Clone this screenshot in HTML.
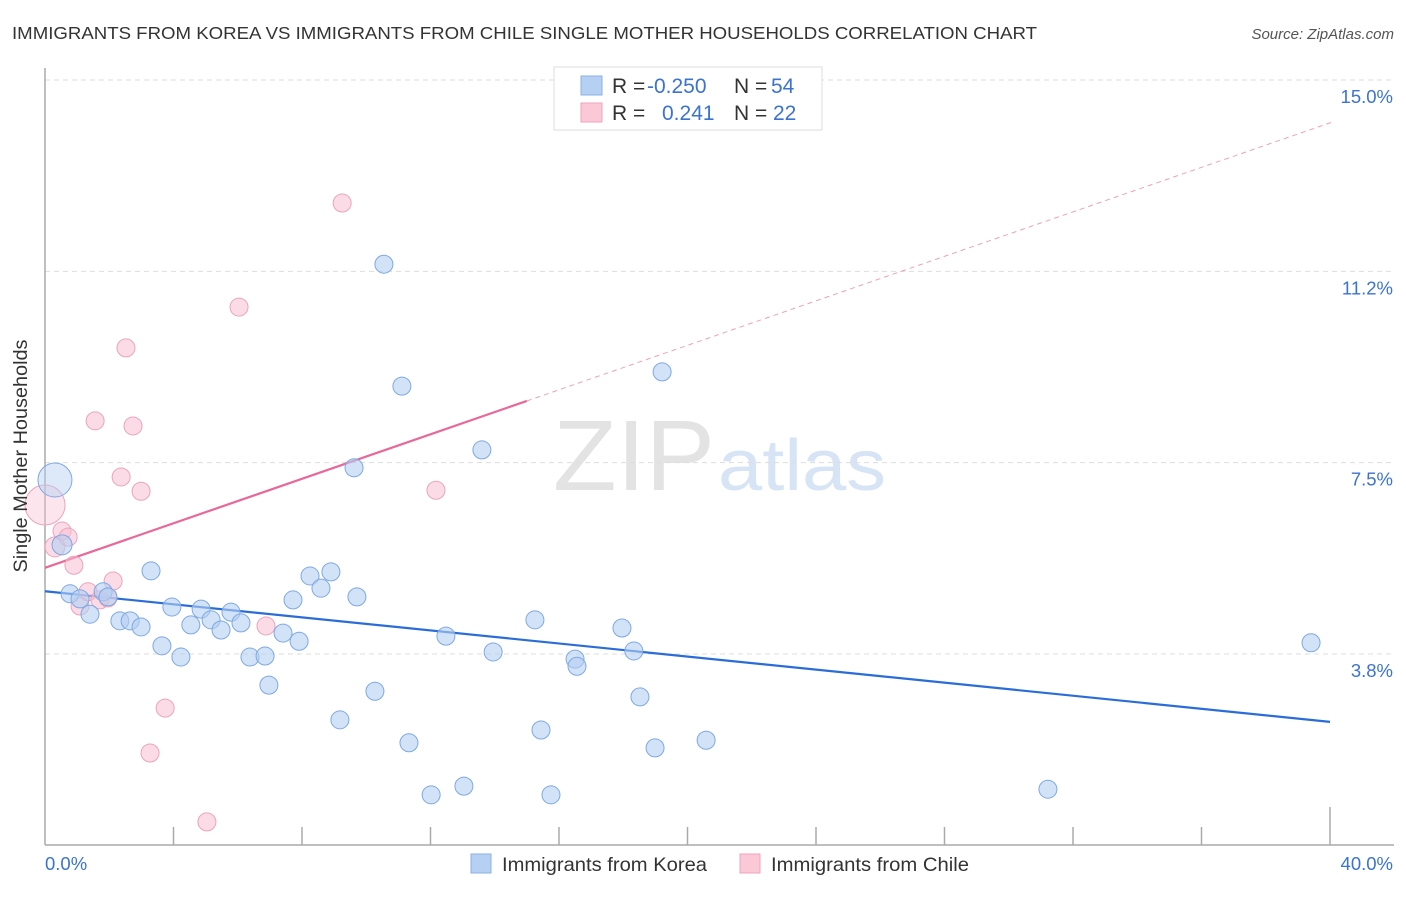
<!DOCTYPE html>
<html><head><meta charset="utf-8"><style>
body{margin:0;background:#fff;font-family:"Liberation Sans",sans-serif;}
svg text{font-family:"Liberation Sans",sans-serif;}
</style></head><body>
<svg id="chart" width="1406" height="892" xmlns="http://www.w3.org/2000/svg">
<text x="12" y="39" font-size="17.5" fill="#333" textLength="1025" lengthAdjust="spacingAndGlyphs">IMMIGRANTS FROM KOREA VS IMMIGRANTS FROM CHILE SINGLE MOTHER HOUSEHOLDS CORRELATION CHART</text>
<text x="1394" y="39" font-size="15" fill="#555" font-style="italic" text-anchor="end">Source: ZipAtlas.com</text>
<g>
<text x="553" y="490" font-size="100" fill="#e3e3e3" font-family="Liberation Serif" textLength="162" lengthAdjust="spacingAndGlyphs">ZIP</text>
<text x="718" y="490" font-size="72" fill="#d6e4f5" textLength="168" lengthAdjust="spacingAndGlyphs">atlas</text>
</g>
<g id="grid"></g><g id="axes"></g><g id="lines"></g><g id="points"></g>
<text x="33" y="456" font-size="19" fill="#333" transform="rotate(-90 33 456)" text-anchor="middle" dy="-6" textLength="233" lengthAdjust="spacingAndGlyphs">Single Mother Households</text>
<g>
<rect x="554" y="67" width="268" height="63" fill="#fff" stroke="#ddd"/>
<rect x="581" y="76" width="21" height="19" fill="#b5d0f3" stroke="#8ab2e6"/>
<rect x="581" y="103" width="21" height="19" fill="#fbc8d7" stroke="#efa3bb"/>
<text x="612" y="93" font-size="21" fill="#333">R = <tspan x="647" fill="#3b73d1">-0.250</tspan><tspan x="734">N = </tspan><tspan x="771" fill="#3b73d1">54</tspan></text>
<text x="612" y="120" font-size="21" fill="#333">R = <tspan x="662" fill="#3b73d1">0.241</tspan><tspan x="734">N = </tspan><tspan x="773" fill="#3b73d1">22</tspan></text>
</g>
<g>
<rect x="471" y="854" width="20" height="19" fill="#b5d0f3" stroke="#8ab2e6"/>
<text x="502" y="871" font-size="19.5" fill="#333" textLength="205" lengthAdjust="spacingAndGlyphs">Immigrants from Korea</text>
<rect x="740" y="854" width="20" height="19" fill="#fbc8d7" stroke="#efa3bb"/>
<text x="771" y="871" font-size="19.5" fill="#333" textLength="198" lengthAdjust="spacingAndGlyphs">Immigrants from Chile</text>
</g>
</svg>
<script>
const xTicks=[4,8,12,16,20,24,28,32,36,40];
const yTicks=[3.75,7.5,11.25,15];
const yTickLabels=["3.8%","7.5%","11.2%","15.0%"];
const koreaX=[0.31,0.53,0.78,1.09,1.40,1.81,1.96,2.33,2.65,2.99,3.30,3.64,3.95,4.23,4.54,4.86,5.17,5.48,5.79,6.10,6.38,6.85,6.97,7.41,7.72,7.91,8.25,8.59,8.90,9.18,9.62,9.71,10.27,10.55,11.11,11.33,12.02,12.48,13.04,13.60,13.95,15.25,15.44,15.75,16.50,16.56,17.96,18.33,18.52,18.99,19.21,20.58,31.22,39.41];
const koreaY=[7.16,5.89,4.93,4.83,4.53,4.97,4.87,4.40,4.40,4.28,5.38,3.91,4.67,3.69,4.32,4.63,4.42,4.22,4.57,4.36,3.69,3.71,3.14,4.16,4.81,4.00,5.28,5.04,5.36,2.46,7.40,4.87,3.02,11.39,9.00,2.01,0.99,4.10,1.16,7.75,3.79,4.42,2.26,0.99,3.65,3.51,4.26,3.81,2.91,1.91,9.28,2.06,1.10,3.97];
const koreaR=[17,10,9,9,9,9,9,9,9,9,9,9,9,9,9,9,9,9,9,9,9,9,9,9,9,9,9,9,9,9,9,9,9,9,9,9,9,9,9,9,9,9,9,9,9,9,9,9,9,9,9,9,9,9];
const chileX=[0,0.31,0.53,0.72,0.90,1.09,1.34,1.56,1.71,2.12,2.37,2.52,2.74,2.99,3.27,3.74,5.04,6.04,6.88,9.25,12.17,1.96];
const chileY=[6.67,5.85,6.16,6.04,5.49,4.69,4.97,8.32,4.81,5.18,7.22,9.75,8.22,6.94,1.81,2.69,0.46,10.55,4.30,12.59,6.96,4.85];
const chileR=[20,10,9,9,9,9,9,9,9,9,9,9,9,9,9,9,9,9,9,9,9,9];
const koreaTrend=[4.98,-0.064];
const chileTrend=[5.44,0.218];
const chileSolidEnd=15, chileDashEnd=40.1, koreaEnd=40;

const NS="http://www.w3.org/2000/svg";
const X=v=>45+v*32.125;
const Y=v=>654-(v-3.75)*51.02;
function mk(tag,parent,attrs){const e=document.createElementNS(NS,tag);for(const k in attrs)e.setAttribute(k,attrs[k]);document.getElementById(parent).appendChild(e);return e;}
yTicks.forEach((t,i)=>{
  const l=mk('line','grid',{x1:45,x2:1394,y1:Y(t),y2:Y(t),stroke:'#ddd','stroke-dasharray':'5,4'});
  
  
  const tx=mk('text','grid',{x:1393,y:Y(t)+23,'font-size':18.5,fill:'#3b73d1','text-anchor':'end'});
  tx.textContent=yTickLabels[i];
  
  
});
const ya=mk('line','axes',{x1:45,x2:45,y1:68,y2:845,stroke:'#aaa','stroke-width':1.5});


const xa=mk('line','axes',{x1:45,x2:1394,y1:845,y2:845,stroke:'#aaa','stroke-width':1.5});


xTicks.forEach(t=>{
  const tk=mk('line','axes',{x1:X(t),x2:X(t),y1:t===40?807:827,y2:845,stroke:'#aaa','stroke-width':1.5});
  
  
});
const xl0=mk('text','axes',{x:45,y:870,'font-size':18.5,fill:'#3b73d1'});xl0.textContent='0.0%';


const xl1=mk('text','axes',{x:1393,y:870,'font-size':18.5,fill:'#3b73d1','text-anchor':'end'});xl1.textContent='40.0%';


const kt=mk('line','lines',{x1:X(0),y1:Y(koreaTrend[0]),x2:X(koreaEnd),y2:Y(koreaTrend[0]+koreaTrend[1]*koreaEnd),stroke:'#2a6dd9','stroke-width':2.2});


const cs=mk('line','lines',{x1:X(0),y1:Y(chileTrend[0]),x2:X(chileSolidEnd),y2:Y(chileTrend[0]+chileTrend[1]*chileSolidEnd),stroke:'#e8689a','stroke-width':2.2});


const cd=mk('line','lines',{x1:X(chileSolidEnd),y1:Y(chileTrend[0]+chileTrend[1]*chileSolidEnd),x2:X(chileDashEnd),y2:Y(chileTrend[0]+chileTrend[1]*chileDashEnd),stroke:'#eea0bd','stroke-width':1,'stroke-dasharray':'5,4'});


chileX.forEach((v,i)=>{
  const big=chileR[i]>12;
  const c=mk('circle','points',{cx:X(v),cy:Y(chileY[i]),r:chileR[i],fill:big?'rgba(248,190,210,0.4)':'rgba(248,190,210,0.55)',stroke:'#eca3bd','stroke-width':1});
  
  
});
koreaX.forEach((v,i)=>{
  const big=koreaR[i]>12;
  const c=mk('circle','points',{cx:X(v),cy:Y(koreaY[i]),r:koreaR[i],fill:big?'rgba(180,206,242,0.45)':'rgba(180,206,242,0.6)',stroke:'#7ea9e3','stroke-width':1});
  
  
});
</script>
</body></html>
